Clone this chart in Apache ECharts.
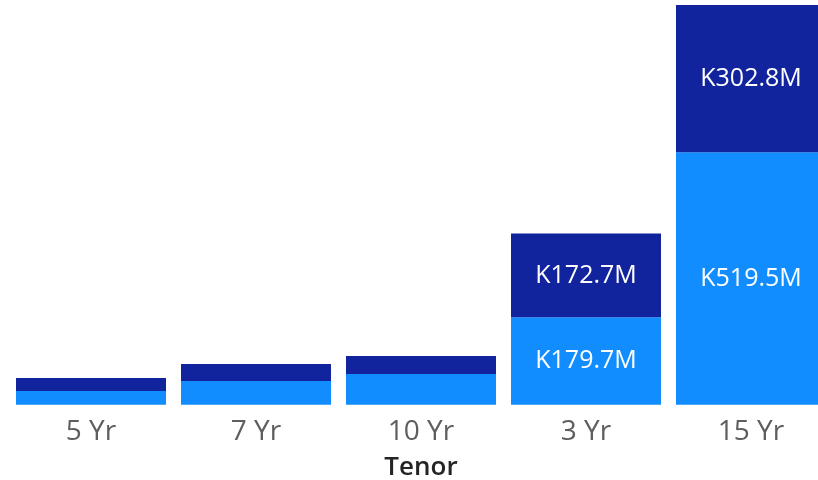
<!DOCTYPE html>
<html>
<head>
<meta charset="utf-8">
<script src="https://cdn.jsdelivr.net/npm/echarts@6/dist/echarts.min.js"></script>
<style>html,body{margin:0;padding:0;background:#fff;}#c{width:818px;height:480px;}</style>
</head>
<body>
<div id="c"></div>
<script>
const categories = ['5 Yr', '7 Yr', '10 Yr', '3 Yr', '15 Yr'];
const seriesA = [28.2, 48.8, 63.2, 179.7, 519.5];
const seriesB = [26.7, 35.0, 37.0, 172.7, 302.8];
const axisTitle = 'Tenor';

const chart = echarts.init(document.getElementById('c'));
const fmt = p => p.value >= 100 ? 'K' + p.value.toFixed(1) + 'M' : '';
const lbl = {show: true, position: 'inside', color: '#ffffff', fontSize: 25, fontFamily: 'Open Sans', formatter: fmt};
chart.setOption({
  animation: false,
  grid: {left: 8.5, width: 825, top: 5, bottom: 75.3, containLabel: false, outerBoundsMode: 'none'},
  xAxis: {
    type: 'category', data: categories,
    axisLine: {show: false}, axisTick: {show: false},
    axisLabel: {color: '#605E5C', fontSize: 28, fontFamily: 'Open Sans', margin: 13},
    name: axisTitle, nameLocation: 'middle', nameGap: 50,
    nameTextStyle: {color: '#252423', fontSize: 26, fontFamily: 'Open Sans', fontWeight: 600}
  },
  yAxis: {type: 'value', show: false, min: 0, max: 'dataMax', splitLine: {show: false}},
  series: [
    {type: 'bar', stack: 't', data: seriesA, itemStyle: {color: '#118DFF'}, label: lbl, barCategoryGap: '9.1%'},
    {type: 'bar', stack: 't', data: seriesB, itemStyle: {color: '#12239E'}, label: lbl}
  ]
});
</script>
</body>
</html>
